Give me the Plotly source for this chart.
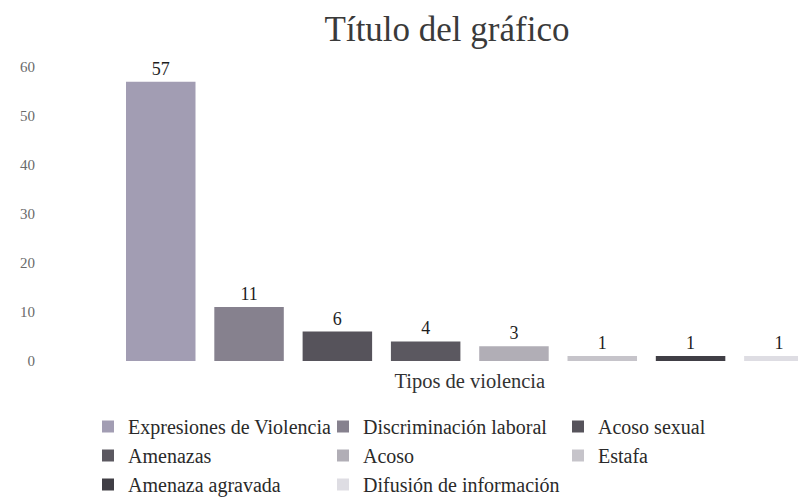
import plotly.graph_objects as go

category = ["Tipos de violencia"]
series_names = [
    "Expresiones de Violencia",
    "Discriminación laboral",
    "Acoso sexual",
    "Amenazas",
    "Acoso",
    "Estafa",
    "Amenaza agravada",
    "Difusión de información",
]
series_values = [57, 11, 6, 4, 3, 1, 1, 1]
series_colors = [
    "#a29db3",
    "#86818e",
    "#56535b",
    "#5b5860",
    "#b1aeb6",
    "#c6c4ca",
    "#403e45",
    "#dedde3",
]
y_ticks = [0, 10, 20, 30, 40, 50, 60]

FONT = "Liberation Serif"

# The page body adds an 8px offset, so the figure is 8px smaller than the window
W, H = 798, 495

fig = go.Figure()
for name, val, col in zip(series_names, series_values, series_colors):
    fig.add_trace(go.Bar(
        name=name,
        x=category,
        y=[val],
        marker=dict(color=col, line=dict(width=0)),
        texttemplate="%{y}",
        textposition="outside",
        textfont=dict(family=FONT, size=18, color="#1e1e1e"),
        cliponaxis=False,
    ))

fig.update_layout(
    width=W,
    height=H,
    paper_bgcolor="white",
    plot_bgcolor="white",
    barmode="group",
    bargap=0,
    bargroupgap=0.213,
    margin=dict(l=28, r=0, t=59, b=142, autoexpand=False),
    title=dict(
        text="Título del gráfico",
        font=dict(family=FONT, size=35, color="#3a3a3a"),
        x=439 / W, xref="container", xanchor="center",
        y=1 - 21 / H, yref="container", yanchor="middle",
    ),
    xaxis=dict(
        type="category",
        range=[-0.6141, 0.4759],
        showgrid=False, zeroline=False, showline=False,
        ticks="",
        automargin=False,
        tickfont=dict(family=FONT, size=20.5, color="#333333"),
        ticklabelstandoff=5,
    ),
    yaxis=dict(
        range=[0, 60],
        tickvals=y_ticks,
        showgrid=False, zeroline=False, showline=False,
        ticks="",
        automargin=False,
        tickfont=dict(family=FONT, size=15, color="#6a6a6a"),
    ),
    showlegend=True,
    legend=dict(
        orientation="h",
        xref="container", x=80 / W, xanchor="left",
        yref="container", y=1 - 399 / H, yanchor="top",
        font=dict(family=FONT, size=20, color="#2a2a2a"),
        entrywidthmode="pixels",
        entrywidth=190,
        itemwidth=30,
        traceorder="normal",
        bgcolor="rgba(0,0,0,0)",
    ),
)

fig.write_html("out.html")
